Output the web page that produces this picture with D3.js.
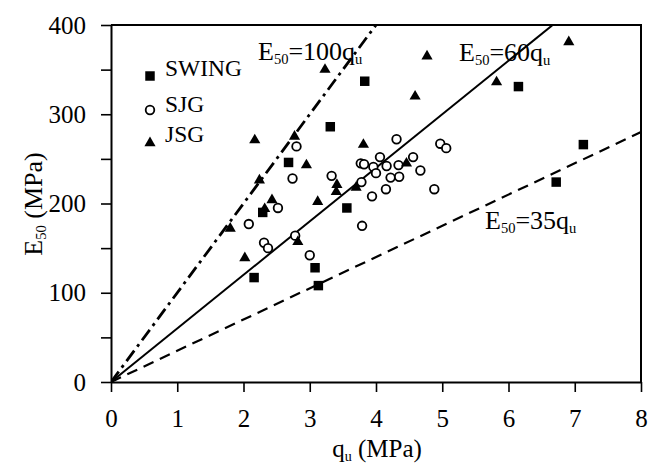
<!DOCTYPE html>
<html>
<head>
<meta charset="utf-8">
<script src="https://cdn.jsdelivr.net/npm/d3@7"></script>
<style>
  body { margin: 0; background: #fff; }
  text { font-family: "Liberation Serif", "Times New Roman", serif; fill: #000; }
</style>
</head>
<body>
<div id="chart"></div>
<script>
// data: [qu (MPa), E50 (MPa)]
const swing = [
    [3.83, 337], [3.31, 286], [2.68, 246], [3.56, 195], [2.29, 190], [2.16, 117],
    [3.08, 128], [3.13, 108], [6.15, 331], [7.13, 266], [6.72, 224]
];
const sjg = [
    [2.80, 264], [2.74, 228], [3.33, 231], [2.52, 195], [2.08, 177], [2.31, 156],
    [2.37, 150], [2.78, 164], [3.00, 142], [3.79, 175], [3.94, 208], [3.78, 224],
    [4.31, 272], [4.97, 267], [5.06, 262], [4.56, 252], [4.06, 252], [3.77, 245],
    [3.82, 244], [3.96, 241], [4.00, 234], [4.16, 242], [4.34, 243], [4.67, 237],
    [4.22, 229], [4.35, 230], [4.15, 216], [4.88, 216]
];
const jsg = [
    [3.23, 350], [2.17, 271], [2.77, 275], [2.95, 243], [3.81, 266], [2.24, 226],
    [3.41, 221], [3.40, 213], [2.43, 204], [3.12, 202], [2.32, 194], [1.80, 172],
    [2.02, 139], [2.82, 157], [3.70, 218], [4.46, 245], [4.77, 365], [5.82, 336],
    [4.59, 320], [6.91, 381]
];
const seriesNames = ["SWING", "SJG", "JSG"];
const slopes = [100, 60, 35];   // E50 = k * qu
const xTicks = [0, 1, 2, 3, 4, 5, 6, 7, 8];
const yTicks = [0, 50, 100, 150, 200, 250, 300, 350, 400];

const W = 649, H = 464;
const margin = {left: 111, top: 25, right: 8, bottom: 82};
const width = W - margin.left - margin.right,
    height = H - margin.top - margin.bottom;

const svg = d3.select("#chart").append("svg")
        .attr("width", W)
        .attr("height", H)
    .append("g")
        .attr("transform", `translate(${margin.left}, ${margin.top})`);

const xScale = d3.scaleLinear().domain([0, 8]).range([0, width]);
const yScale = d3.scaleLinear().domain([0, 400]).range([height, 0]);

svg.append("clipPath").attr("id", "plotClip")
    .append("rect").attr("width", width).attr("height", height);

// axes
const xAxis = svg.append("g")
    .attr("transform", `translate(0, ${height})`)
    .call(d3.axisBottom(xScale).tickValues(xTicks).tickSize(10).tickSizeOuter(0).tickPadding(17));
const yAxis = svg.append("g")
    .call(d3.axisLeft(yScale).tickValues(yTicks).tickSize(10).tickSizeOuter(0).tickPadding(15)
        .tickFormat(d => d % 100 === 0 ? d : ""));
[xAxis, yAxis].forEach(a => {
    a.select(".domain").attr("stroke-width", 2);
    a.selectAll(".tick line").attr("stroke-width", 1.6);
    a.selectAll(".tick text")
        .attr("font-size", "25px")
        .attr("font-family", "Liberation Serif");
});

// frame top and right
svg.append("path")
    .attr("d", `M0,0H${width}V${height}`)
    .attr("fill", "none").attr("stroke", "#000").attr("stroke-width", 2);

// reference lines
const lineStyles = [
    {dash: "13,5,3,5", w: 2.8},
    {dash: null, w: 2},
    {dash: "11,7", w: 2.2}
];
const line = d3.line().x(d => xScale(d[0])).y(d => yScale(d[1]));
slopes.forEach((k, i) => {
    svg.append("path")
        .datum([[0, 0], [8, 8 * k]])
        .attr("clip-path", "url(#plotClip)")
        .attr("d", line)
        .attr("fill", "none")
        .attr("stroke", "#000")
        .attr("stroke-width", lineStyles[i].w)
        .attr("stroke-dasharray", lineStyles[i].dash);
});

// markers
const squareSym = d3.symbol().type(d3.symbolSquare).size(90);
const triSym = d3.symbol().type(d3.symbolTriangle).size(54);

svg.selectAll(".sq").data(swing).enter().append("path")
    .attr("class", "sq")
    .attr("transform", d => `translate(${xScale(d[0])}, ${yScale(d[1])})`)
    .attr("d", squareSym)
    .attr("fill", "#000");

svg.selectAll(".ci").data(sjg).enter().append("circle")
    .attr("class", "ci")
    .attr("cx", d => xScale(d[0]))
    .attr("cy", d => yScale(d[1]))
    .attr("r", 4.3)
    .attr("fill", "#fff")
    .attr("stroke", "#000")
    .attr("stroke-width", 1.8);

svg.selectAll(".tr").data(jsg).enter().append("path")
    .attr("class", "tr")
    .attr("transform", d => `translate(${xScale(d[0])}, ${yScale(d[1])})`)
    .attr("d", triSym)
    .attr("fill", "#000");

// text with subscripts: parts = [[str, isSub], ...]
function subText(parent, x, y, parts, size) {
    const t = parent.append("text")
        .attr("x", x).attr("y", y)
        .attr("font-size", size + "px");
    let down = false;
    const shift = size * 0.17;
    parts.forEach(p => {
        const s = t.append("tspan").text(p[0]);
        if (p[1]) {
            s.attr("font-size", (size * 0.56) + "px").attr("dy", down ? 0 : shift);
            down = true;
        } else {
            s.attr("dy", down ? -shift : 0);
            down = false;
        }
    });
    return t;
}

// line labels
const root = d3.select("svg");
subText(root, 258, 60, [["E", 0], ["50", 1], ["=100q", 0], ["u", 1]], 26);
subText(root, 459, 61, [["E", 0], ["50", 1], ["=60q", 0], ["u", 1]], 26);
subText(root, 485, 229, [["E", 0], ["50", 1], ["=35q", 0], ["u", 1]], 26);

// legend
const legY = [76, 110, 143];
root.append("path").attr("transform", `translate(150, ${legY[0]})`).attr("d", squareSym).attr("fill", "#000");
root.append("circle").attr("cx", 150).attr("cy", legY[1]).attr("r", 4.3)
    .attr("fill", "#fff").attr("stroke", "#000").attr("stroke-width", 1.8);
root.append("path").attr("transform", `translate(150, ${legY[2]})`).attr("d", triSym).attr("fill", "#000");
seriesNames.forEach((n, i) => {
    root.append("text")
        .attr("x", 165)
        .attr("y", [76, 112, 142][i])
        .attr("font-size", "23.5px")
        .text(n);
});

// axis titles
const xt = subText(root, 377, 457, [["q", 0], ["u", 1], [" (MPa)", 0]], 25);
xt.attr("text-anchor", "middle");
const yt = subText(root, 0, 0, [["E", 0], ["50", 1], [" (MPa)", 0]], 26);
yt.attr("text-anchor", "middle").attr("transform", "translate(42, 204) rotate(-90)");
</script>
</body>
</html>
